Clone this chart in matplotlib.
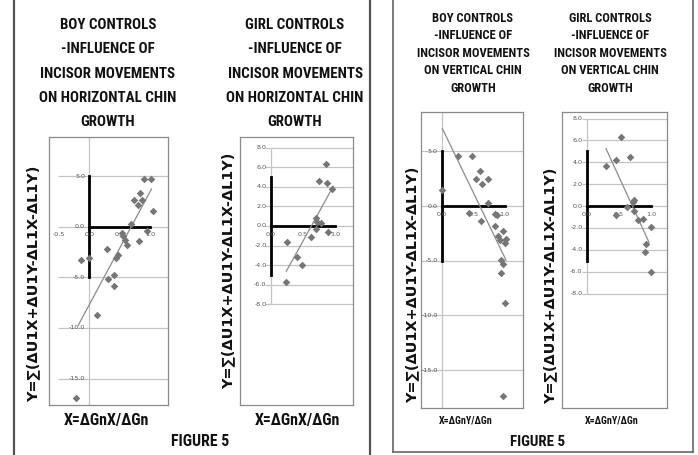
import numpy as np
import matplotlib
matplotlib.use('Agg')
import matplotlib.pyplot as plt
from matplotlib import font_manager
from matplotlib.lines import Line2D

# data
boy_h_x = [0.90, 1.01, 0.83, 0.73, 0.87, 0.80, 1.04, 0.69, 0.94, 0.54, 0.59, 0.82,
           0.55, 0.62, 0.29, 0.43, 0.47, -0.14, 0.00, 0.41, 0.30, 0.40, 0.12, -0.21]
boy_h_y = [4.7, 4.7, 3.3, 2.6, 2.6, 2.1, 1.5, 0.3, -0.4, -0.6, -1.3, -1.4,
           -0.9, -1.8, -2.2, -3.1, -2.8, -3.3, -3.1, -4.8, -5.2, -5.9, -8.7, -16.9]
girl_h_x = [0.85, 0.75, 0.88, 0.95, 0.70, 0.72, 0.78, 0.71, 0.89, 0.62, 0.25, 0.41, 0.49, 0.24]
girl_h_y = [6.3, 4.6, 4.35, 3.8, 0.8, 0.45, 0.3, -0.3, -0.6, -1.1, -1.6, -3.2, -4.0, -5.7]
boy_v_x = [0.0, 0.25, 0.48, 0.60, 0.55, 0.64, 0.73, 0.74, 0.43, 0.62, 0.85, 0.87,
           0.84, 0.90, 0.93, 0.97, 1.02, 1.01, 0.94, 0.98, 0.94, 1.01, 0.98]
boy_v_y = [1.5, 4.6, 4.6, 3.2, 2.5, 2.0, 2.5, 0.25, -0.6, -1.4, -0.7, -0.8,
           -1.8, -2.7, -3.1, -2.3, -3.0, -3.4, -4.9, -5.3, -6.1, -8.9, -17.4]
girl_v_x = [0.53, 0.30, 0.46, 0.67, 0.73, 0.72, 0.62, 0.73, 0.46, 0.80, 0.87, 1.00, 0.93, 0.90, 1.00]
girl_v_y = [6.3, 3.7, 4.2, 4.45, 0.6, 0.4, -0.1, -0.45, -0.8, -1.3, -1.2, -1.95, -3.5, -4.2, -6.0]

# trend lines: x start, x end, slope, intercept
boy_h_trend = [-0.18, 1.02, 11.2, -7.7]
girl_h_trend = [0.24, 0.97, 11.9, -7.5]
boy_v_trend = [0.01, 1.02, -11.9, 7.2]
girl_v_trend = [0.30, 0.97, -12.8, 9.1]

ticks_wide = [5, 0, -5, -10, -15]
ticks_narrow = [8, 6, 4, 2, 0, -2, -4, -6, -8]

title_h_boy = ['BOY CONTROLS', '-INFLUENCE OF', 'INCISOR MOVEMENTS', 'ON HORIZONTAL CHIN', 'GROWTH']
title_h_girl = ['GIRL CONTROLS', '-INFLUENCE OF', 'INCISOR MOVEMENTS', 'ON HORIZONTAL CHIN', 'GROWTH']
title_v_boy = ['BOY CONTROLS', '-INFLUENCE OF', 'INCISOR MOVEMENTS', 'ON VERTICAL CHIN', 'GROWTH']
title_v_girl = ['GIRL CONTROLS', '-INFLUENCE OF', 'INCISOR MOVEMENTS', 'ON VERTICAL CHIN', 'GROWTH']
ylab = 'Y=∑(ΔU1X+ΔU1Y-ΔL1X-ΔL1Y)'
xlab_h = 'X=ΔGnX/ΔGn'
xlab_v = 'X=ΔGnY/ΔGn'


def pick(names):
    for n in names:
        try:
            font_manager.findfont(n, fallback_to_default=False)
            return n
        except ValueError:
            pass
    return 'DejaVu Sans'


narrow = pick(['Liberation Sans Narrow', 'Roboto Condensed', 'Open Sans Condensed',
               'DejaVu Sans Condensed', 'Liberation Sans'])

W, H = 698, 455
fig = plt.figure(figsize=(6.98, 4.55), dpi=100)
fig.patch.set_facecolor('white')
rend = fig.canvas.get_renderer()


def fx(px):
    return px / W


def fy(py):
    return 1 - py / H


def fline(x0, y0, x1, y1, **kw):
    fig.add_artist(Line2D([fx(x0), fx(x1)], [fy(y0), fy(y1)], transform=fig.transFigure, **kw))


def fit(texts, target, vertical=False):
    # scale font so the widest text matches the width in the picture
    ext = [t.get_window_extent(rend) for t in texts]
    w = max(e.height if vertical else e.width for e in ext)
    for t in texts:
        t.set_fontsize(t.get_fontsize() * target / w)


# panel frames
fline(14, 0, 14, 455, color='#555555', lw=1.6)
fline(370, 0, 370, 455, color='#555555', lw=1.6)
fline(393, 0, 393, 452, color='#666666', lw=1.2)
fline(693, 0, 693, 452, color='#666666', lw=1.2)
fline(393, 452, 693, 452, color='#666666', lw=1.2)

charts = [
    dict(box=(49, 137, 168, 405), xlim=(-0.66, 1.29), ylim=(-17.6, 8.85), x=boy_h_x, y=boy_h_y,
         trend=boy_h_trend, yt=ticks_wide, xt=[-0.5, 0.0, 0.5, 1.0], gx=-0.52, vz=None),
    dict(box=(240, 137, 353, 405), xlim=(-0.476, 1.276), ylim=(-18.27, 9.08), x=girl_h_x, y=girl_h_y,
         trend=girl_h_trend, yt=ticks_narrow, xt=[0.0, 0.5, 1.0], gx=-0.09, vz=(-8, 8)),
    dict(box=(421, 112, 523, 408), xlim=(-0.33, 1.29), ylim=(-18.46, 8.6), x=boy_v_x, y=boy_v_y,
         trend=boy_v_trend, yt=ticks_wide, xt=[0.0, 0.5, 1.0], gx=None, vz=None),
    dict(box=(562, 112, 667, 408), xlim=(-0.385, 1.25), ylim=(-18.46, 8.6), x=girl_v_x, y=girl_v_y,
         trend=girl_v_trend, yt=ticks_narrow, xt=[0.0, 0.5, 1.0], gx=-0.08, vz=(-8, 8)),
]

for c in charts:
    l, t, r, b = c['box']
    ax = fig.add_axes([fx(l), fy(b), (r - l) / W, (b - t) / H])
    ax.set_xlim(*c['xlim'])
    ax.set_ylim(*c['ylim'])
    ax.set_xticks([])
    ax.set_yticks([])
    for s in ax.spines.values():
        s.set_color('#8a8a8a')
        s.set_linewidth(0.9)
    gx = c['xlim'][0] if c['gx'] is None else c['gx']
    ax.hlines(c['yt'], gx, c['xlim'][1], color='#c4c4c4', lw=0.9, zorder=0)
    vz = c['ylim'] if c['vz'] is None else c['vz']
    ax.vlines(0, vz[0], vz[1], color='#c4c4c4', lw=0.9, zorder=0)
    for v in c['yt']:
        ax.annotate(f'{v:.1f}', (0, v), xytext=(-3, 0), textcoords='offset points',
                    ha='right', va='center', fontsize=4.6, color='#555555')
    for v in c['xt']:
        ax.annotate(f'{v:.1f}', (v, 0), xytext=(0, -4), textcoords='offset points',
                    ha='center', va='top', fontsize=4.6, color='#555555')
    ax.plot([0, 0], [-5, 5], color='black', lw=2, zorder=2)
    ax.plot([0, 1], [0, 0], color='black', lw=2, zorder=2)
    x0, x1, m, q = c['trend']
    tx = np.array([x0, x1])
    ax.plot(tx, m * tx + q, color='#8c8c8c', lw=0.9, zorder=3)
    ax.scatter(c['x'], c['y'], marker='D', s=15, color='#767676', lw=0, zorder=4)

bold = dict(family=[narrow, 'DejaVu Sans'], weight='bold', color='#111111', ha='center', va='center')

# titles
for lines, cx, y0, dy, wpx in [(title_h_boy, 108, 25, 24.3, 137), (title_h_girl, 295, 25, 24.3, 137),
                               (title_v_boy, 473, 18, 17.6, 112), (title_v_girl, 610, 18, 17.6, 112)]:
    tt = [fig.text(fx(cx), fy(y0 + i * dy), s, fontsize=10, **bold) for i, s in enumerate(lines)]
    fit(tt, wpx)

# y labels
for cx, cy in [(33, 284), (228, 271), (412, 285), (550, 286)]:
    t = fig.text(fx(cx), fy(cy), ylab, rotation=90, ha='center', va='center',
                 family='DejaVu Sans', weight='bold', fontsize=10, color='#111111')
    fit([t], 236, vertical=True)

# x labels and figure captions
for cx, cy, s, wpx in [(106, 420, xlab_h, 85), (297, 420, xlab_h, 85),
                       (466, 420, xlab_v, 53), (612, 420, xlab_v, 53),
                       (200, 442, 'FIGURE 5', 58), (538, 442, 'FIGURE 5', 55)]:
    t = fig.text(fx(cx), fy(cy), s, fontsize=10, **bold)
    fit([t], wpx)

fig.savefig('out.png', dpi=100)
